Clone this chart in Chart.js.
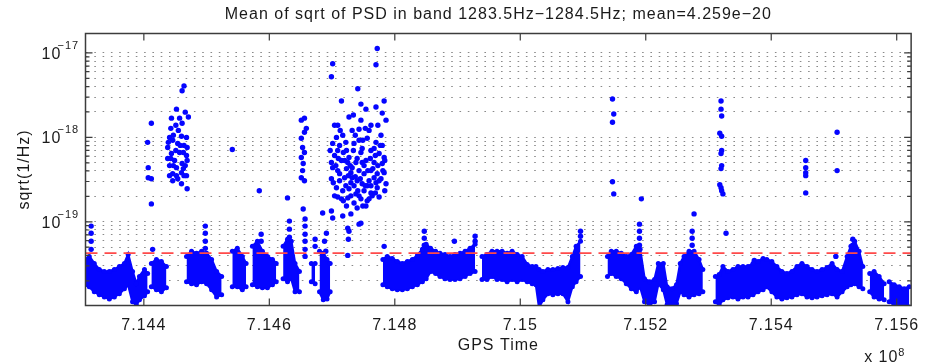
<!DOCTYPE html>
<html>
<head>
<meta charset="utf-8">
<script src="https://cdn.jsdelivr.net/npm/chart.js@4.4.1/dist/chart.umd.min.js"></script>
<style>
  html, body { margin: 0; padding: 0; background: #fff; }
  #psdChart { display: block; }
</style>
</head>
<body>
<canvas id="psdChart" width="927" height="363"></canvas>
<script>
// GPS time in units of 1e8 s (the axis carries an "x 10^8" multiplier)
const timeMin = 7.14307;
const timeMax = 7.15623;
const timeTicks = [7.144, 7.146, 7.148, 7.150, 7.152, 7.154, 7.156];

// sqrt(1/Hz) on a log axis
const psdMin = 1.02e-20;
const psdMax = 1.7e-17;
const psdDecades = [-20, -19, -18, -17];
const psdMean = 4.259e-20;

// quiet band: [time, upper edge, lower edge], null rows are gaps in the data
const quietBand = [
  [7.14307, 3.58e-20, 1.80e-20], [7.14313, 3.89e-20, 1.70e-20], [7.14321, 3.21e-20, 1.48e-20],
  [7.14329, 2.72e-20, 1.37e-20], [7.14337, 2.58e-20, 1.29e-20], [7.14345, 2.58e-20, 1.22e-20],
  [7.14353, 2.72e-20, 1.29e-20], [7.14361, 2.95e-20, 1.41e-20], [7.14369, 3.21e-20, 1.61e-20],
  [7.14375, 4.11e-20, 1.80e-20], [7.14382, 2.58e-20, 1.13e-20], [7.14388, 1.85e-20, 1.04e-20],
  [7.14393, 2.25e-20, 1.19e-20], [7.14401, 2.72e-20, 1.33e-20], [7.14406, 2.44e-20, 1.48e-20],
  [7.14409, null, null],
  [7.14412, 3.21e-20, 1.70e-20], [7.14420, 3.58e-20, 1.57e-20], [7.14428, 3.39e-20, 1.48e-20],
  [7.14436, 2.95e-20, 1.66e-20],
  [7.14452, null, null],
  [7.14468, 3.89e-20, 1.95e-20], [7.14476, 4.47e-20, 1.85e-20], [7.14484, 4.23e-20, 1.80e-20],
  [7.14492, 4.47e-20, 1.95e-20], [7.14500, 4.23e-20, 1.85e-20], [7.14508, 3.58e-20, 1.57e-20],
  [7.14516, 2.58e-20, 1.29e-20], [7.14524, 2.25e-20, 1.37e-20],
  [7.14533, null, null],
  [7.14541, 4.47e-20, 1.70e-20], [7.14549, 4.85e-20, 1.70e-20], [7.14557, 3.89e-20, 1.57e-20],
  [7.14563, 3.21e-20, 1.70e-20],
  [7.14568, null, null],
  [7.14573, 5.12e-20, 1.80e-20], [7.14581, 5.88e-20, 1.70e-20], [7.14589, 4.47e-20, 1.66e-20],
  [7.14597, 3.89e-20, 1.66e-20], [7.14605, 3.58e-20, 1.80e-20], [7.14611, 3.21e-20, 1.95e-20],
  [7.14616, null, null],
  [7.14622, 5.12e-20, 2.12e-20], [7.14629, 6.21e-20, 1.95e-20], [7.14635, 5.88e-20, 2.12e-20],
  [7.14641, 3.21e-20, 1.48e-20], [7.14648, 2.58e-20, 1.48e-20],
  [7.14657, null, null],
  [7.14667, 3.21e-20, 1.95e-20], [7.14673, 3.21e-20, 1.85e-20],
  [7.14676, null, null],
  [7.14680, 4.47e-20, 1.48e-20], [7.14686, 4.23e-20, 1.19e-20], [7.14692, 3.58e-20, 1.22e-20],
  [7.14697, 3.21e-20, 1.48e-20],
  [7.14727, null, null],
  [7.14781, 3.58e-20, 1.80e-20], [7.14788, 3.89e-20, 1.70e-20], [7.14796, 3.68e-20, 1.61e-20],
  [7.14804, 3.39e-20, 1.57e-20], [7.14812, 3.21e-20, 1.57e-20], [7.14820, 3.39e-20, 1.61e-20],
  [7.14828, 3.58e-20, 1.70e-20], [7.14836, 4.00e-20, 1.80e-20], [7.14844, 4.72e-20, 1.95e-20],
  [7.14850, 5.41e-20, 2.12e-20], [7.14857, 4.85e-20, 2.58e-20], [7.14865, 4.47e-20, 2.44e-20],
  [7.14872, 4.23e-20, 2.25e-20], [7.14880, 4.11e-20, 2.12e-20], [7.14888, 3.89e-20, 2.07e-20],
  [7.14896, 4.11e-20, 2.07e-20], [7.14904, 4.23e-20, 2.12e-20], [7.14912, 4.47e-20, 2.25e-20],
  [7.14920, 4.85e-20, 2.44e-20], [7.14928, 5.41e-20, 2.58e-20],
  [7.14935, null, null],
  [7.14939, 3.89e-20, 2.07e-20], [7.14947, 4.11e-20, 2.07e-20], [7.14955, 4.47e-20, 2.25e-20],
  [7.14963, 4.47e-20, 2.07e-20], [7.14971, 4.47e-20, 2.07e-20], [7.14979, 4.23e-20, 1.95e-20],
  [7.14987, 4.47e-20, 2.07e-20], [7.14995, 4.11e-20, 1.95e-20], [7.15003, 3.89e-20, 2.07e-20],
  [7.15011, 3.12e-20, 1.95e-20], [7.15019, 2.95e-20, 1.85e-20], [7.15025, 2.95e-20, 1.80e-20],
  [7.15030, 2.72e-20, 0.98e-20], [7.15036, 2.58e-20, 1.19e-20], [7.15044, 2.72e-20, 1.41e-20],
  [7.15052, 2.72e-20, 1.37e-20], [7.15060, 2.80e-20, 1.41e-20], [7.15068, 2.87e-20, 1.41e-20],
  [7.15076, 2.87e-20, 1.13e-20], [7.15083, 3.89e-20, 1.70e-20], [7.15089, 5.12e-20, 1.95e-20],
  [7.15096, 5.88e-20, 2.25e-20],
  [7.15118, null, null],
  [7.15139, 3.89e-20, 2.25e-20], [7.15145, 4.47e-20, 2.44e-20], [7.15153, 4.47e-20, 2.25e-20],
  [7.15161, 4.23e-20, 2.12e-20], [7.15169, 3.89e-20, 1.85e-20], [7.15177, 4.11e-20, 1.61e-20],
  [7.15185, 5.12e-20, 1.48e-20], [7.15191, 4.72e-20, 1.70e-20], [7.15198, 2.12e-20, 1.13e-20],
  [7.15206, 1.95e-20, 1.04e-20], [7.15214, 2.07e-20, 1.13e-20], [7.15220, 3.21e-20, 1.85e-20],
  [7.15228, 3.21e-20, 1.57e-20], [7.15234, 1.70e-20, 1.04e-20], [7.15242, 1.61e-20, 0.98e-20],
  [7.15249, 1.80e-20, 1.07e-20], [7.15255, 3.21e-20, 1.48e-20], [7.15261, 3.89e-20, 1.37e-20],
  [7.15269, 4.47e-20, 1.29e-20], [7.15277, 4.47e-20, 1.37e-20], [7.15285, 3.58e-20, 1.41e-20],
  [7.15291, 2.72e-20, 1.48e-20],
  [7.15301, null, null],
  [7.15311, 2.25e-20, 1.13e-20], [7.15317, 2.37e-20, 1.04e-20], [7.15323, 2.95e-20, 1.19e-20],
  [7.15331, 2.58e-20, 1.26e-20], [7.15339, 2.72e-20, 1.29e-20], [7.15347, 2.95e-20, 1.22e-20],
  [7.15355, 2.95e-20, 1.29e-20], [7.15363, 2.95e-20, 1.29e-20], [7.15371, 3.21e-20, 1.37e-20],
  [7.15379, 3.39e-20, 1.48e-20], [7.15387, 3.68e-20, 1.57e-20], [7.15393, 3.58e-20, 1.70e-20],
  [7.15401, 3.39e-20, 1.48e-20], [7.15409, 2.95e-20, 1.29e-20], [7.15417, 2.58e-20, 1.22e-20],
  [7.15425, 2.44e-20, 1.26e-20], [7.15433, 2.58e-20, 1.29e-20], [7.15441, 2.95e-20, 1.37e-20],
  [7.15449, 3.21e-20, 1.41e-20], [7.15457, 2.95e-20, 1.29e-20], [7.15465, 2.72e-20, 1.26e-20],
  [7.15473, 2.58e-20, 1.29e-20], [7.15481, 2.72e-20, 1.33e-20], [7.15489, 2.87e-20, 1.37e-20],
  [7.15497, 3.21e-20, 1.41e-20], [7.15505, 2.72e-20, 1.29e-20], [7.15513, 2.58e-20, 1.48e-20],
  [7.15521, 3.89e-20, 1.70e-20], [7.15527, 5.12e-20, 1.80e-20], [7.15533, 5.88e-20, 1.85e-20],
  [7.15540, 4.47e-20, 1.70e-20], [7.15546, 2.95e-20, 1.61e-20],
  [7.15551, null, null],
  [7.15557, 2.44e-20, 1.48e-20], [7.15564, 2.58e-20, 1.29e-20], [7.15572, 2.25e-20, 1.22e-20],
  [7.15580, 1.85e-20, 1.19e-20],
  [7.15584, null, null],
  [7.15588, 1.95e-20, 1.13e-20], [7.15596, 1.80e-20, 1.04e-20], [7.15604, 1.70e-20, 1.07e-20],
  [7.15612, 1.61e-20, 0.98e-20], [7.15620, 1.70e-20, 0.98e-20]
];

// loud points above the band: [time, value]
const glitchPoints = [
  // burst near 7.1445
  [7.14412, 1.47e-18], [7.14406, 8.73e-19], [7.14407, 4.38e-19], [7.14407, 3.33e-19], [7.14412, 3.24e-19],
  [7.14412, 1.63e-19], [7.14464, 4.07e-18], [7.14461, 3.56e-18], [7.14452, 2.16e-18], [7.14466, 1.99e-18],
  [7.14471, 1.74e-18], [7.14444, 1.69e-18], [7.14457, 1.69e-18], [7.14451, 1.39e-18], [7.14461, 1.47e-18],
  [7.14441, 1.00e-18], [7.14446, 9.23e-19], [7.14460, 1.03e-18], [7.14468, 1.00e-18], [7.14454, 8.49e-19],
  [7.14469, 7.60e-19], [7.14438, 7.60e-19], [7.14444, 6.44e-19], [7.14457, 6.62e-19], [7.14468, 6.10e-19],
  [7.14449, 5.32e-19], [7.14461, 4.90e-19], [7.14469, 5.32e-19], [7.14441, 4.63e-19], [7.14452, 4.38e-19],
  [7.14460, 3.82e-19], [7.14446, 3.72e-19], [7.14468, 3.52e-19], [7.14446, 3.07e-19], [7.14460, 2.82e-19],
  [7.14469, 2.46e-19], [7.14452, 3.52e-19], [7.14464, 3.52e-19], [7.14438, 5.62e-19], [7.14455, 1.21e-18],
  [7.14464, 8.04e-19], [7.14443, 1.28e-18], [7.14451, 7.00e-19], [7.14463, 4.27e-19], [7.14441, 3.52e-19],
  [7.14447, 1.06e-18], [7.14458, 8.04e-19], [7.14443, 5.62e-19], [7.14466, 4.63e-19], [7.14454, 3.24e-19],
  [7.14447, 4.63e-19], [7.14463, 6.62e-19], [7.14439, 8.73e-19],
  // isolated
  [7.14541, 7.19e-19], [7.14584, 2.33e-19], [7.14629, 1.92e-19],
  // column near 7.1465
  [7.14651, 1.60e-18], [7.14656, 1.69e-18], [7.14659, 1.28e-18], [7.14651, 9.75e-19], [7.14653, 7.60e-19],
  [7.14656, 6.62e-19], [7.14651, 5.78e-19], [7.14654, 4.90e-19], [7.14653, 4.04e-19], [7.14651, 3.33e-19],
  [7.14656, 3.07e-19], [7.14654, 1.42e-19], [7.14656, 1.15e-18],
  // main burst 7.1470 - 7.1478
  [7.14772, 1.13e-17], [7.14770, 7.26e-18], [7.14701, 7.46e-18], [7.14699, 5.22e-18], [7.14741, 3.76e-18],
  [7.14715, 2.70e-18], [7.14783, 2.70e-18], [7.14746, 2.48e-18], [7.14770, 2.29e-18], [7.14754, 2.16e-18],
  [7.14780, 1.94e-18], [7.14727, 1.74e-18], [7.14746, 1.60e-18], [7.14704, 1.39e-18], [7.14709, 1.39e-18],
  [7.14762, 1.39e-18], [7.14743, 1.25e-18], [7.14732, 1.21e-18], [7.14717, 1.06e-18], [7.14759, 1.21e-18],
  [7.14707, 1.00e-18], [7.14701, 8.49e-19], [7.14712, 8.04e-19], [7.14735, 8.49e-19], [7.14743, 9.23e-19],
  [7.14756, 9.75e-19], [7.14770, 8.73e-19], [7.14778, 1.06e-18], [7.14780, 8.04e-19], [7.14723, 7.00e-19],
  [7.14748, 7.40e-19], [7.14762, 7.00e-19], [7.14775, 6.44e-19], [7.14704, 6.10e-19], [7.14715, 5.32e-19],
  [7.14727, 5.78e-19], [7.14740, 5.62e-19], [7.14754, 5.32e-19], [7.14767, 5.03e-19], [7.14780, 4.90e-19],
  [7.14701, 4.38e-19], [7.14709, 4.04e-19], [7.14723, 4.27e-19], [7.14732, 4.38e-19], [7.14743, 4.04e-19],
  [7.14751, 3.72e-19], [7.14762, 4.04e-19], [7.14772, 3.72e-19], [7.14783, 3.82e-19], [7.14699, 3.24e-19],
  [7.14712, 3.07e-19], [7.14720, 3.33e-19], [7.14730, 2.90e-19], [7.14740, 3.07e-19], [7.14748, 2.82e-19],
  [7.14759, 3.07e-19], [7.14770, 2.90e-19], [7.14778, 3.24e-19], [7.14707, 2.53e-19], [7.14717, 2.33e-19],
  [7.14727, 2.46e-19], [7.14738, 2.14e-19], [7.14751, 2.33e-19], [7.14762, 2.20e-19], [7.14772, 2.53e-19],
  [7.14704, 2.03e-19], [7.14715, 1.87e-19], [7.14725, 1.92e-19], [7.14735, 1.67e-19], [7.14746, 1.87e-19],
  [7.14756, 1.77e-19], [7.14764, 2.03e-19], [7.14723, 1.54e-19], [7.14740, 1.46e-19], [7.14754, 1.54e-19],
  [7.14783, 5.78e-19], [7.14699, 5.03e-19], [7.14786, 2.82e-19], [7.14732, 3.33e-19], [7.14746, 6.62e-19],
  [7.14725, 5.03e-19], [7.14712, 3.72e-19], [7.14767, 3.33e-19], [7.14735, 2.67e-19], [7.14756, 2.67e-19],
  [7.14720, 5.32e-19], [7.14767, 7.40e-19], [7.14743, 2.03e-19], [7.14775, 1.97e-19], [7.14709, 7.00e-19],
  [7.14751, 4.63e-19], [7.14730, 3.82e-19],
  [7.14697, 7.00e-19], [7.14706, 4.63e-19], [7.14710, 5.62e-19], [7.14718, 6.62e-19], [7.14722, 2.67e-19],
  [7.14726, 3.52e-19], [7.14729, 4.63e-19], [7.14734, 7.00e-19], [7.14737, 3.42e-19], [7.14738, 5.03e-19],
  [7.14741, 2.33e-19], [7.14745, 3.24e-19], [7.14748, 5.03e-19], [7.14749, 9.23e-19], [7.14753, 2.67e-19],
  [7.14757, 4.04e-19], [7.14761, 5.62e-19], [7.14762, 2.67e-19], [7.14765, 4.27e-19], [7.14769, 6.10e-19],
  [7.14769, 2.20e-19], [7.14773, 4.63e-19], [7.14775, 3.07e-19], [7.14777, 8.04e-19], [7.14781, 4.04e-19],
  [7.14784, 5.32e-19], [7.14784, 2.33e-19], [7.14702, 2.90e-19], [7.14709, 1.97e-19], [7.14718, 1.77e-19],
  [7.14730, 2.03e-19], [7.14749, 1.54e-19], [7.14759, 1.87e-19], [7.14722, 8.73e-19], [7.14737, 1.06e-18],
  [7.14713, 1.21e-18], [7.14753, 1.28e-18], [7.14773, 1.39e-18], [7.14734, 1.84e-18], [7.14786, 1.60e-18],
  [7.14685, 1.27e-19], [7.14699, 1.34e-19], [7.14701, 1.11e-19], [7.14717, 1.17e-19], [7.14730, 1.24e-19],
  [7.14743, 9.38e-20], [7.14725, 8.41e-20], [7.14727, 7.74e-20], [7.14726, 6.21e-20], [7.14725, 4.00e-20],
  [7.14691, 7.33e-20], [7.14688, 5.88e-20], [7.14690, 4.47e-20], [7.14746, 9.64e-20], [7.14783, 5.12e-20],
  // spikes rising out of the band
  [7.14316, 8.89e-20], [7.14316, 7.33e-20], [7.14316, 5.88e-20], [7.14316, 4.72e-20],
  [7.14498, 8.89e-20], [7.14498, 7.33e-20], [7.14498, 5.88e-20], [7.14498, 4.85e-20],
  [7.14587, 7.13e-20], [7.14587, 5.88e-20],
  [7.14632, 1.02e-19], [7.14632, 8.18e-20], [7.14632, 6.56e-20],
  [7.14657, 1.08e-19], [7.14657, 8.89e-20], [7.14657, 7.13e-20], [7.14657, 5.88e-20], [7.14657, 4.72e-20], [7.14657, 3.89e-20],
  [7.14673, 6.21e-20], [7.14673, 5.12e-20],
  [7.14847, 7.74e-20], [7.14847, 6.38e-20], [7.14847, 5.27e-20],
  [7.14928, 6.75e-20], [7.14928, 5.88e-20],
  [7.15096, 7.74e-20], [7.15096, 6.75e-20],
  [7.15190, 9.38e-20], [7.15190, 7.74e-20], [7.15190, 6.38e-20], [7.15190, 5.27e-20],
  [7.15274, 7.74e-20], [7.15274, 6.38e-20], [7.15274, 5.27e-20],
  [7.15328, 7.33e-20], [7.14414, 4.72e-20], [7.14895, 5.88e-20], [7.15373, 3.48e-20], [7.15503, 3.89e-20],
  [7.15530, 6.21e-20], [7.15530, 5.27e-20],
  // later bursts
  [7.15147, 2.85e-18], [7.15149, 1.89e-18], [7.15147, 1.51e-18], [7.15147, 2.98e-19], [7.15149, 2.14e-19],
  [7.15193, 1.87e-19], [7.15277, 1.24e-19],
  [7.15320, 2.70e-18], [7.15320, 2.16e-18], [7.15321, 1.79e-18], [7.15318, 1.12e-18], [7.15321, 1.03e-18],
  [7.15320, 6.44e-19], [7.15321, 7.00e-19], [7.15321, 4.63e-19], [7.15320, 4.27e-19], [7.15320, 2.53e-19],
  [7.15321, 2.33e-19], [7.15323, 2.14e-19], [7.15318, 2.75e-19],
  [7.15455, 5.32e-19], [7.15455, 4.38e-19], [7.15455, 3.82e-19], [7.15455, 3.52e-19], [7.15455, 2.20e-19],
  [7.15505, 1.15e-18], [7.15505, 4.04e-19]
];

const blue = '#0505ff';
const textColor = '#1a1a1a';
const fontFamily = '"Liberation Sans", Arial, Helvetica, sans-serif';

// grid / tick values on the log axis: 1..9 x 10^decade inside the limits
const psdGridValues = [];
psdDecades.forEach(function(e) {
    for (let m = 1; m <= 9; m++) {
        const v = m * Math.pow(10, e);
        if (v >= psdMin && v <= psdMax) psdGridValues.push(v);
    }
});

Chart.defaults.font.family = fontFamily;
Chart.defaults.color = textColor;

// MATLAB-like frame, inward ticks and 10^n labels
const matlabAxes = {
    id: 'matlabAxes',
    beforeDraw(chart) {
        chart.ctx.letterSpacing = '1px';
    },
    afterDraw(chart) {
        const ctx = chart.ctx;
        const a = chart.chartArea;
        const xs = chart.scales.x;
        const ys = chart.scales.y;

        ctx.save();
        ctx.strokeStyle = '#3c3c3c';
        ctx.lineWidth = 1.2;
        ctx.beginPath();
        timeTicks.forEach(function(t) {
            const px = xs.getPixelForValue(t);
            ctx.moveTo(px, a.bottom); ctx.lineTo(px, a.bottom - 7);
            ctx.moveTo(px, a.top); ctx.lineTo(px, a.top + 7);
        });
        psdGridValues.forEach(function(v) {
            const py = ys.getPixelForValue(v);
            const major = Math.abs(Math.log10(v) - Math.round(Math.log10(v))) < 1e-6;
            const len = major ? 7 : 4;
            ctx.moveTo(a.left, py); ctx.lineTo(a.left + len, py);
            ctx.moveTo(a.right, py); ctx.lineTo(a.right - len, py);
        });
        ctx.stroke();
        ctx.lineWidth = 1.5;
        ctx.strokeRect(a.left, a.top, a.right - a.left, a.bottom - a.top);

        // decade labels 10^n
        ctx.fillStyle = textColor;
        ctx.textBaseline = 'alphabetic';
        ctx.textAlign = 'left';
        psdDecades.forEach(function(e) {
            const v = Math.pow(10, e);
            if (v < psdMin || v > psdMax) return;
            const py = ys.getPixelForValue(v);
            ctx.font = '16px ' + fontFamily;
            ctx.fillText('10', a.left - 44, py + 6);
            ctx.font = '11px ' + fontFamily;
            ctx.fillText('\u2212' + Math.abs(e), a.left - 28, py - 4);
        });

        // axis multiplier under the time axis
        ctx.font = '16px ' + fontFamily;
        ctx.fillText('x 10', a.right - 47, a.bottom + 56);
        ctx.font = '11px ' + fontFamily;
        ctx.fillText('8', a.right - 13, a.bottom + 50);
        ctx.restore();
        ctx.letterSpacing = '0px';
    }
};

new Chart(document.getElementById('psdChart'), {
    type: 'scatter',
    data: {
        datasets: [
            {
                type: 'line',
                label: 'mean',
                data: [{x: timeMin, y: psdMean}, {x: timeMax, y: psdMean}],
                borderColor: '#ff4a4a',
                borderWidth: 1.6,
                borderDash: [12, 7],
                pointRadius: 0,
                fill: false
            },
            {
                type: 'line',
                label: 'band top',
                data: quietBand.map(r => ({x: r[0], y: r[1]})),
                borderColor: blue,
                backgroundColor: blue,
                borderWidth: 2.5,
                pointRadius: 2.5,
                pointBackgroundColor: blue,
                pointBorderWidth: 0,
                fill: '+1',
                spanGaps: false,
                tension: 0
            },
            {
                type: 'line',
                label: 'band bottom',
                data: quietBand.map(r => ({x: r[0], y: r[2]})),
                borderColor: blue,
                backgroundColor: blue,
                borderWidth: 2.5,
                pointRadius: 2.5,
                pointBackgroundColor: blue,
                pointBorderWidth: 0,
                fill: false,
                spanGaps: false,
                tension: 0
            },
            {
                label: 'glitches',
                data: glitchPoints.map(p => ({x: p[0], y: p[1]})),
                pointRadius: 2.7,
                backgroundColor: blue,
                borderWidth: 0
            }
        ]
    },
    options: {
        responsive: false,
        animation: false,
        devicePixelRatio: 1,
        events: [],
        layout: { padding: { left: 0, right: 15, top: 0, bottom: 0 } },
        plugins: {
            legend: { display: false },
            tooltip: { enabled: false },
            title: {
                display: true,
                fullSize: false,
                text: 'Mean of sqrt of PSD in band 1283.5Hz\u22121284.5Hz; mean=' +
                      psdMean.toExponential(3).replace('-', '\u2212'),
                color: textColor,
                font: { size: 16, weight: 'normal' },
                padding: { top: 5, bottom: 9.3 }
            }
        },
        scales: {
            x: {
                type: 'linear',
                min: timeMin,
                max: timeMax,
                afterBuildTicks: function(scale) {
                    scale.ticks = timeTicks.map(v => ({value: v}));
                },
                afterFit: function(scale) { scale.height = 57.5; },
                grid: { display: false, drawTicks: false, tickLength: 0 },
                border: { display: false },
                ticks: {
                    autoSkip: false,
                    maxRotation: 0,
                    padding: 10,
                    color: textColor,
                    font: { size: 16 },
                    callback: v => String(Number(v.toFixed(3)))
                },
                title: {
                    display: true,
                    text: 'GPS Time',
                    color: textColor,
                    font: { size: 16 },
                    padding: { top: 0, bottom: 7.4 }
                }
            },
            y: {
                type: 'logarithmic',
                min: psdMin,
                max: psdMax,
                afterBuildTicks: function(scale) {
                    scale.ticks = psdGridValues.map(v => ({value: v}));
                },
                afterFit: function(scale) { scale.width = 85.5; },
                grid: { color: '#8a8a8a', lineWidth: 1, drawTicks: false },
                border: { display: false, dash: [1.6, 6.7] },
                ticks: { display: false, autoSkip: false },
                title: {
                    display: true,
                    text: 'sqrt(1/Hz)',
                    color: textColor,
                    font: { size: 16 },
                    padding: { top: 15.4, bottom: 0 }
                }
            }
        }
    },
    plugins: [matlabAxes]
});
</script>
</body>
</html>
